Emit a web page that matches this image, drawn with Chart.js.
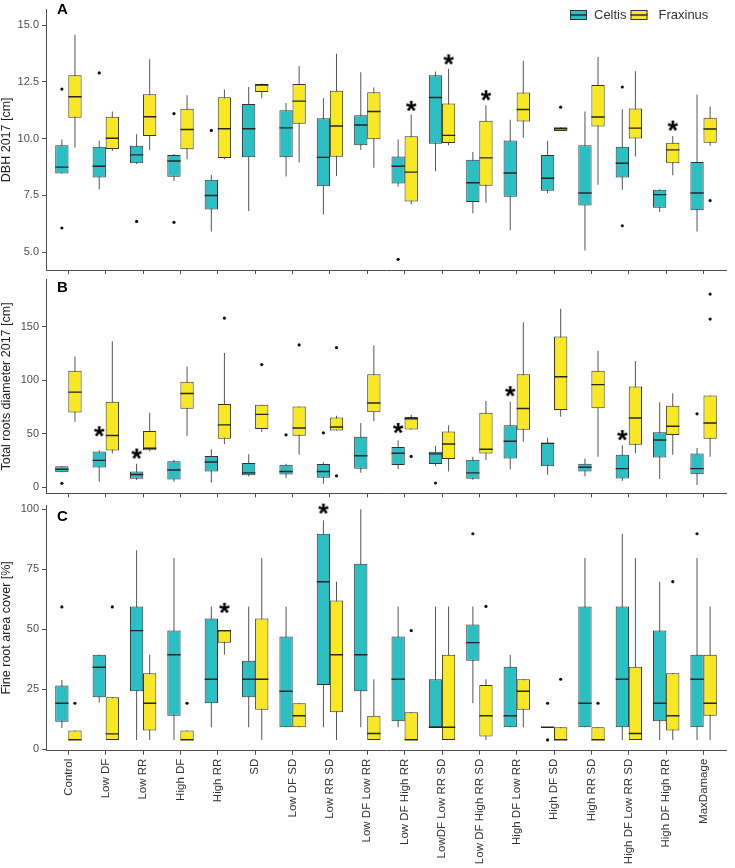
<!DOCTYPE html>
<html><head><meta charset="utf-8">
<script src="https://cdn.jsdelivr.net/npm/chart.js@4.4.1/dist/chart.umd.min.js"></script>
<style>
body{margin:0;background:#fff}
#wrap{position:relative;width:735px;height:868px;overflow:hidden;background:#fff}
canvas{position:absolute;left:0}
</style>
</head><body><div id="wrap">
<canvas id="cA" width="735" height="290" style="top:0px"></canvas>
<canvas id="cB" width="735" height="240" style="top:270px"></canvas>
<canvas id="cC" width="735" height="373" style="top:495px"></canvas>
</div>
<script>
// ---------- DATA ----------
const categories = ['Control','Low DF','Low RR','High DF','High RR','SD','Low DF SD','Low RR SD',
  'Low DF Low RR','Low DF High RR','LowDF Low RR SD','Low DF High RR SD','High DF Low RR',
  'High DF SD','High RR SD','High DF Low RR SD','High DF High RR','MaxDamage'];
const seriesNames = ['Celtis','Fraxinus'];

// box stats per category: [lower whisker, Q1, median, Q3, upper whisker]
const dbhCeltis = [
  [8.46,8.46,8.74,9.70,9.96],[7.77,8.28,8.78,9.64,9.90],[8.88,8.91,9.28,9.68,10.19],[8.13,8.32,9.01,9.28,9.32],
  [5.91,6.88,7.49,8.19,8.39],[6.81,9.18,10.43,11.52,12.27],[8.33,9.18,10.47,11.25,11.57],[6.65,7.90,9.17,10.89,11.77],
  [9.50,9.71,10.60,11.03,12.92],[7.89,8.02,8.78,9.21,9.96],[8.56,9.77,11.81,12.79,12.95],[6.71,7.20,8.05,9.07,9.41],
  [5.96,7.44,8.48,9.91,10.83],[7.59,7.70,8.25,9.28,9.90],[5.07,7.05,7.60,9.71,11.19],[7.74,8.28,8.91,9.64,11.29],
  [6.77,6.95,7.53,7.74,7.77],[5.91,6.84,7.60,8.97,11.94]];
const dbhFraxinus = [
  [9.61,10.92,11.84,12.79,14.57],[9.45,9.54,10.01,10.96,11.19],[9.50,10.11,10.96,11.95,13.49],[9.09,9.53,10.40,11.31,11.91],
  [9.09,9.14,10.43,11.82,12.16],[11.77,12.05,12.36,12.40,12.43],[8.95,10.65,11.65,12.40,13.20],[8.35,9.20,10.55,12.11,13.74],
  [8.71,9.97,11.19,12.04,12.25],[7.11,7.23,8.52,10.10,11.06],[9.70,9.80,10.14,11.54,13.07],[7.17,7.92,9.15,10.78,11.47],
  [10.03,10.75,11.28,12.03,13.43],[10.33,10.33,10.43,10.50,10.50],[7.97,10.53,10.95,12.36,13.59],[9.21,10.00,10.46,11.32,12.96],
  [8.38,8.91,9.50,9.81,10.11],[9.68,9.81,10.42,10.92,11.41]];
const dbhCeltisOutliers = [[0,12.18],[0,6.06],[1,12.89],[2,6.35],[3,11.10],[3,6.31],[4,10.36],[9,4.68],[15,12.27],[15,6.16]];
const dbhFraxinusOutliers = [[13,11.38],[17,7.27]];
const dbhStars = [[9,1,11.44],[10,1,13.49],[11,1,11.91],[16,1,10.57]]; // [category, series, value]
const dbhTicks = [5,7.5,10,12.5,15];

const rootCeltis = [
  [14.1,14.1,16.8,19.6,19.6],[5.2,18.4,25.1,33.4,34.6],[6.7,8.0,11.9,14.7,22.0],[5.2,7.3,16.2,24.2,25.7],
  [4.3,14.7,23.6,29.1,35.5],[10.1,11.3,13.5,22.7,30.9],[8.6,11.9,14.7,21.1,22.0],[3.4,8.9,14.7,21.7,23.3],
  [13.5,17.4,29.4,47.1,60.0],[16.8,20.8,31.8,37.6,43.8],[19.9,21.7,31.2,33.1,38.6],[7.0,8.0,13.5,25.7,28.5],
  [16.8,26.9,42.9,57.9,79.9],[11.6,19.6,41.0,41.6,46.2],[10.4,14.7,18.7,22.0,26.9],[6.1,8.3,17.4,30.3,39.2],
  [7.7,27.9,44.1,51.4,79.3],[2.1,12.2,17.4,31.5,36.7]];
const rootFraxinus = [
  [61.2,69.8,88.8,108.7,122.1],[31.5,34.3,48.4,79.9,136.2],[33.7,34.6,36.4,52.6,69.5],[48.1,73.2,87.5,98.6,112.6],
  [40.4,45.3,58.2,77.7,125.2],[51.7,54.5,68.0,77.1,77.1],[30.3,48.1,55.4,75.3,75.3],[53.0,53.0,56.3,65.2,66.7],
  [61.8,70.1,78.7,105.6,132.2],[53.9,53.9,64.0,65.5,67.6],[14.7,26.3,40.4,52.0,57.9],[25.4,31.5,35.5,69.5,80.5],
  [42.5,53.6,73.5,105.6,154.0],[65.8,72.2,103.2,140.8,166.5],[28.5,73.8,95.8,108.7,127.3],[31.8,39.8,64.6,94.0,117.8],
  [30.3,48.7,56.9,76.2,87.8],[28.5,45.3,60.0,85.7,85.7]];
const rootCeltisOutliers = [[0,3.7],[6,49.0],[7,50.8],[10,4.0],[17,68.6]];
const rootFraxinusOutliers = [[4,157.9],[5,114.5],[6,132.8],[7,130.4],[7,10.7],[9,28.8],[17,157.0],[17,180.3]];
const rootStars = [[1,0,52.3],[2,0,31.5],[9,0,55.4],[12,0,89.7],[15,0,48.7]];
const rootTicks = [0,50,100,150];

const coverCeltis = [
  [8.8,11.4,19.1,26.5,28.8],[19.4,21.6,34.1,39.3,39.3],[3.8,24.1,49.4,59.5,82.9],[3.8,13.9,39.3,49.4,79.7],
  [9.1,19.1,29.1,54.5,59.5],[9.1,21.6,29.1,36.8,59.5],[9.1,9.1,24.1,46.9,59.5],[9.1,26.7,69.8,89.8,95.4],
  [9.1,24.1,39.3,77.3,100],[9.1,11.6,29.1,46.9,59.5],[9.1,9.1,9.1,29.1,59.5],[19.1,36.8,44.4,51.9,59.5],
  [9.1,9.1,13.9,34.3,39.3],[9.1,9.1,9.1,9.1,9.1],[9.1,9.1,19.1,59.5,79.7],[3.8,9.1,29.1,59.5,89.8],
  [3.8,11.6,19.1,49.4,69.8],[3.8,9.1,29.1,39.3,79.7]];
const coverFraxinus = [
  [3.8,3.8,3.8,7.7,7.7],[3.8,3.8,6.3,21.6,21.6],[3.8,7.7,19.1,31.6,39.3],[3.8,3.8,3.8,7.7,7.7],
  [39.3,44.3,49.4,49.4,49.4],[3.8,16.4,29.1,54.5,79.7],[9.1,9.1,13.9,19.1,19.1],[3.8,15.3,39.3,62.0,69.8],
  [3.8,3.8,6.5,13.9,29.1],[3.8,3.8,3.8,15.3,15.3],[3.8,3.8,9.1,39.3,59.5],[3.8,5.2,13.9,26.7,29.1],
  [9.1,16.4,24.1,29.1,29.1],[3.8,3.8,3.8,9.1,9.1],[3.8,3.8,3.8,9.1,9.1],[3.8,3.8,6.5,34.3,79.7],
  [3.8,7.7,13.9,31.6,31.6],[3.8,13.9,19.1,39.3,59.5]];
const coverCeltisOutliers = [[0,59.3],[11,89.8],[13,19.1],[13,3.8],[17,89.8]];
const coverFraxinusOutliers = [[0,19.1],[1,59.3],[3,19.1],[9,49.4],[11,59.5],[13,29.1],[14,19.1],[16,69.8]];
const coverStars = [[4,1,58.9],[7,0,100.3]];
const coverTicks = [0,25,50,75,100];

// ---------- STYLE ----------
const FONT = "'Liberation Sans', Arial, Helvetica, sans-serif";
const COLORS = ['#2BBEC2', '#F7E823'];
const EDGE = '#333333';
const DODGE = 0.175;

// asterisk marker image
const starImg = (() => {
  const c = document.createElement('canvas'); c.width = 16; c.height = 16;
  const g = c.getContext('2d');
  g.font = 'bold 27px ' + FONT; g.fillStyle = '#000'; g.textAlign = 'center'; g.textBaseline = 'alphabetic';
  const m = g.measureText('*');
  const asc = m.actualBoundingBoxAscent, desc = m.actualBoundingBoxDescent;
  g.fillText('*', 8, 8 + (asc - desc) / 2);
  return c;
})();

function buildDatasets(stats, outs, stars) {
  const ds = [];
  stats.forEach((st, s) => {
    const off = s === 0 ? -DODGE : DODGE;
    ds.push({type:'bar', label: seriesNames[s] + ' whisker', order: 6, grouped:false,
      data: st.map((d, i) => ({x: i + off, y: [d[0], d[4]]})),
      backgroundColor: '#555555', borderWidth: 0, barThickness: 1, inflateAmount: 0});
    ds.push({type:'bar', label: seriesNames[s], order: 4, grouped:false,
      data: st.map((d, i) => ({x: i + off, y: [d[1], d[3]]})),
      backgroundColor: COLORS[s], borderColor: EDGE, borderWidth: 1, borderSkipped: false,
      barThickness: 13.3, inflateAmount: 0});
    ds.push({type:'scatter', label: seriesNames[s] + ' median', order: 2,
      data: st.map((d, i) => ({x: i + off, y: d[2]})),
      pointStyle: 'line', pointRadius: 6.65, pointBorderWidth: 1.4, pointBorderColor: '#262626',
      pointHoverRadius: 6.65});
    ds.push({type:'scatter', label: seriesNames[s] + ' outliers', order: 1,
      data: outs[s].map(([i, v]) => ({x: i + off, y: v})),
      pointStyle: 'circle', pointRadius: 1.6, pointBackgroundColor: '#111', pointBorderWidth: 0,
      pointHoverRadius: 1.6});
  });
  ds.push({type:'scatter', label:'significance', order: 0, clip: false,
    data: stars.map(([i, s, v]) => ({x: i + (s === 0 ? -DODGE : DODGE), y: v})),
    pointStyle: starImg, pointRadius: 8, pointHoverRadius: 8});
  return ds;
}

const decoPlugin = {
  id: 'deco',
  afterDraw(chart, args, opts) {
    const ctx = chart.ctx;
    ctx.save();
    ctx.fillStyle = '#000';
    ctx.font = 'bold 15px ' + FONT;
    ctx.textAlign = 'left'; ctx.textBaseline = 'alphabetic';
    ctx.fillText(opts.letter, 57, opts.letterY);
    if (opts.legend) {
      ctx.font = '13px ' + FONT;
      let x = 570; const y = 10, w = 17, h = 10;
      seriesNames.forEach((name, s) => {
        ctx.fillStyle = COLORS[s]; ctx.fillRect(x, y, w, h);
        ctx.strokeStyle = EDGE; ctx.lineWidth = 1; ctx.strokeRect(x + 0.5, y + 0.5, w - 1, h - 1);
        ctx.beginPath(); ctx.moveTo(x, y + h / 2); ctx.lineTo(x + w, y + h / 2);
        ctx.lineWidth = 1.4; ctx.strokeStyle = '#262626'; ctx.stroke();
        ctx.fillStyle = '#333'; ctx.textBaseline = 'middle';
        const tx = x + (s === 0 ? 24 : 28);
        ctx.fillText(name, tx, y + h / 2 + 0.5);
        x = tx + ctx.measureText(name).width + 4;
      });
    }
    ctx.restore();
  }
};

function makeChart(id, p) {
  return new Chart(document.getElementById(id), {
    type: 'bar',
    data: {datasets: buildDatasets(p.stats, p.outs, p.stars)},
    options: {
      responsive: false, animation: false, events: [],
      layout: {padding: {top: p.padTop, right: 4.7, left: 0, bottom: 0}},
      plugins: {legend: {display: false}, tooltip: {enabled: false},
        deco: {letter: p.letter, letterY: p.letterY, legend: p.legend}},
      scales: {
        x: {type: 'linear', min: -0.6, max: 17.6, offset: false,
          afterBuildTicks: s => { s.ticks = categories.map((_, i) => ({value: i})); },
          afterFit: s => { s.height = p.xHeight; },
          grid: {display: true, drawOnChartArea: false, drawTicks: true, tickLength: 4, color: '#4d4d4d', offset: false},
          border: {display: true, color: '#4d4d4d', width: 1},
          ticks: {display: p.showLabels, autoSkip: false, minRotation: 90, maxRotation: 90, padding: 4,
            color: '#333', font: {family: FONT, size: 11.5},
            callback: v => categories[v]}
        },
        y: {min: p.min, max: p.max,
          afterBuildTicks: s => { s.ticks = p.ticks.map(v => ({value: v})); },
          afterFit: s => { s.width = 46; },
          grid: {display: true, drawOnChartArea: false, drawTicks: true, tickLength: 4, color: '#4d4d4d'},
          border: {display: true, color: '#4d4d4d', width: 1},
          ticks: {padding: 3, color: '#4d4d4d', font: {family: FONT, size: 11},
            callback: v => p.fmt(v)},
          title: {display: true, text: p.title, color: '#222', padding: {top: 0, bottom: 0},
            font: {family: FONT, size: 12.5, lineHeight: 1}}
        }
      }
    },
    plugins: [decoPlugin]
  });
}

makeChart('cA', {stats: [dbhCeltis, dbhFraxinus], outs: [dbhCeltisOutliers, dbhFraxinusOutliers], stars: dbhStars,
  ticks: dbhTicks, fmt: v => v.toFixed(1), min: 4.21, max: 15.68, title: 'DBH 2017 [cm]',
  padTop: 4, xHeight: 20, showLabels: false, letter: 'A', letterY: 14, legend: true});
makeChart('cB', {stats: [rootCeltis, rootFraxinus], outs: [rootCeltisOutliers, rootFraxinusOutliers], stars: rootStars,
  ticks: rootTicks, fmt: v => String(v), min: -5.6, max: 193.8, title: 'Total roots diameter 2017 [cm]',
  padTop: 6, xHeight: 16.7, showLabels: false, letter: 'B', letterY: 21.5, legend: false});
makeChart('cC', {stats: [coverCeltis, coverFraxinus], outs: [coverCeltisOutliers, coverFraxinusOutliers], stars: coverStars,
  ticks: coverTicks, fmt: v => String(v), min: -0.7, max: 101.8, title: 'Fine root area cover [%]',
  padTop: 10, xHeight: 117.3, showLabels: true, letter: 'C', letterY: 25.7, legend: false});
</script>
</body></html>
